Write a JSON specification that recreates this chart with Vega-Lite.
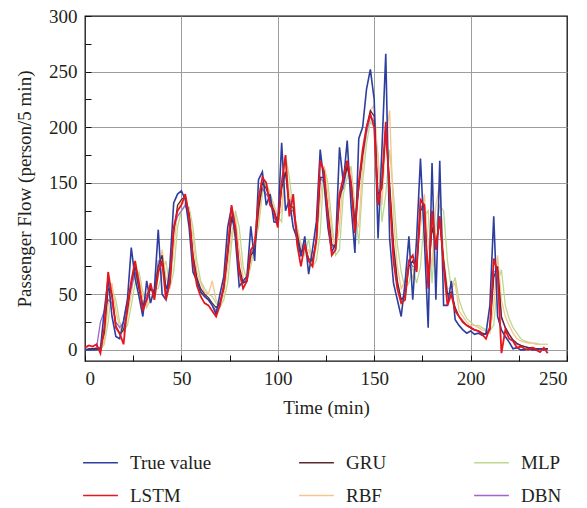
{
"$schema":"https://vega.github.io/schema/vega-lite/v6.json",
"width":482,"height":345,
"padding":{"left":15,"top":7,"right":19,"bottom":5},
"background":"white",
"data":{"values":[
{"t":0,"True value":0,"LSTM":2,"GRU":0,"RBF":0,"MLP":0,"DBN":0},
{"t":2,"True value":0,"LSTM":4,"GRU":1,"RBF":0,"MLP":0,"DBN":0},
{"t":4,"True value":0,"LSTM":3,"GRU":1,"RBF":1,"MLP":0,"DBN":1},
{"t":6,"True value":0,"LSTM":5,"GRU":1,"RBF":1,"MLP":0,"DBN":2},
{"t":8,"True value":1,"LSTM":-3,"GRU":2,"RBF":1,"MLP":0,"DBN":25},
{"t":10,"True value":35,"LSTM":20,"GRU":15,"RBF":8,"MLP":5,"DBN":35},
{"t":12,"True value":64,"LSTM":70,"GRU":55,"RBF":40,"MLP":25,"DBN":45},
{"t":14,"True value":30,"LSTM":48,"GRU":50,"RBF":60,"MLP":55,"DBN":42},
{"t":16,"True value":12,"LSTM":20,"GRU":22,"RBF":35,"MLP":45,"DBN":25},
{"t":18,"True value":10,"LSTM":15,"GRU":14,"RBF":20,"MLP":25,"DBN":20},
{"t":20,"True value":26,"LSTM":5,"GRU":18,"RBF":15,"MLP":18,"DBN":25},
{"t":22,"True value":45,"LSTM":40,"GRU":35,"RBF":30,"MLP":22,"DBN":45},
{"t":24,"True value":92,"LSTM":62,"GRU":60,"RBF":50,"MLP":40,"DBN":55},
{"t":26,"True value":64,"LSTM":80,"GRU":75,"RBF":75,"MLP":60,"DBN":70},
{"t":28,"True value":48,"LSTM":60,"GRU":55,"RBF":65,"MLP":70,"DBN":55},
{"t":30,"True value":30,"LSTM":35,"GRU":40,"RBF":45,"MLP":52,"DBN":40},
{"t":32,"True value":62,"LSTM":45,"GRU":45,"RBF":40,"MLP":38,"DBN":50},
{"t":34,"True value":42,"LSTM":60,"GRU":55,"RBF":55,"MLP":45,"DBN":55},
{"t":36,"True value":55,"LSTM":45,"GRU":50,"RBF":52,"MLP":55,"DBN":52},
{"t":38,"True value":108,"LSTM":70,"GRU":75,"RBF":65,"MLP":55,"DBN":80},
{"t":40,"True value":50,"LSTM":80,"GRU":85,"RBF":90,"MLP":70,"DBN":80},
{"t":42,"True value":45,"LSTM":45,"GRU":55,"RBF":65,"MLP":80,"DBN":55},
{"t":44,"True value":75,"LSTM":60,"GRU":60,"RBF":55,"MLP":55,"DBN":65},
{"t":46,"True value":132,"LSTM":110,"GRU":105,"RBF":90,"MLP":70,"DBN":110},
{"t":48,"True value":140,"LSTM":125,"GRU":130,"RBF":125,"MLP":110,"DBN":120},
{"t":50,"True value":143,"LSTM":130,"GRU":135,"RBF":135,"MLP":125,"DBN":125},
{"t":52,"True value":135,"LSTM":140,"GRU":138,"RBF":130,"MLP":130,"DBN":130},
{"t":54,"True value":110,"LSTM":120,"GRU":122,"RBF":125,"MLP":128,"DBN":120},
{"t":56,"True value":70,"LSTM":80,"GRU":85,"RBF":100,"MLP":110,"DBN":85},
{"t":58,"True value":62,"LSTM":58,"GRU":65,"RBF":70,"MLP":80,"DBN":62},
{"t":60,"True value":52,"LSTM":48,"GRU":55,"RBF":60,"MLP":62,"DBN":52},
{"t":62,"True value":48,"LSTM":42,"GRU":50,"RBF":52,"MLP":55,"DBN":48},
{"t":64,"True value":45,"LSTM":40,"GRU":47,"RBF":50,"MLP":50,"DBN":45},
{"t":66,"True value":40,"LSTM":35,"GRU":42,"RBF":62,"MLP":48,"DBN":40},
{"t":68,"True value":32,"LSTM":30,"GRU":38,"RBF":45,"MLP":42,"DBN":35},
{"t":70,"True value":50,"LSTM":40,"GRU":42,"RBF":40,"MLP":38,"DBN":42},
{"t":72,"True value":66,"LSTM":58,"GRU":55,"RBF":50,"MLP":45,"DBN":58},
{"t":74,"True value":110,"LSTM":90,"GRU":85,"RBF":75,"MLP":60,"DBN":88},
{"t":76,"True value":128,"LSTM":130,"GRU":118,"RBF":105,"MLP":95,"DBN":120},
{"t":78,"True value":100,"LSTM":110,"GRU":110,"RBF":120,"MLP":125,"DBN":105},
{"t":80,"True value":57,"LSTM":70,"GRU":75,"RBF":90,"MLP":110,"DBN":70},
{"t":82,"True value":62,"LSTM":55,"GRU":60,"RBF":65,"MLP":75,"DBN":60},
{"t":84,"True value":66,"LSTM":62,"GRU":62,"RBF":62,"MLP":62,"DBN":64},
{"t":86,"True value":111,"LSTM":90,"GRU":85,"RBF":80,"MLP":75,"DBN":88},
{"t":88,"True value":80,"LSTM":95,"GRU":90,"RBF":100,"MLP":95,"DBN":90},
{"t":90,"True value":153,"LSTM":135,"GRU":125,"RBF":115,"MLP":110,"DBN":130},
{"t":92,"True value":160,"LSTM":155,"GRU":150,"RBF":145,"MLP":140,"DBN":145},
{"t":94,"True value":130,"LSTM":150,"GRU":145,"RBF":150,"MLP":150,"DBN":140},
{"t":96,"True value":140,"LSTM":130,"GRU":135,"RBF":140,"MLP":140,"DBN":135},
{"t":98,"True value":115,"LSTM":125,"GRU":125,"RBF":130,"MLP":130,"DBN":120},
{"t":100,"True value":114,"LSTM":110,"GRU":115,"RBF":120,"MLP":120,"DBN":112},
{"t":102,"True value":186,"LSTM":150,"GRU":145,"RBF":125,"MLP":115,"DBN":150},
{"t":104,"True value":125,"LSTM":175,"GRU":160,"RBF":170,"MLP":175,"DBN":160},
{"t":106,"True value":135,"LSTM":120,"GRU":130,"RBF":140,"MLP":155,"DBN":125},
{"t":108,"True value":110,"LSTM":140,"GRU":128,"RBF":125,"MLP":125,"DBN":125},
{"t":110,"True value":100,"LSTM":95,"GRU":105,"RBF":110,"MLP":110,"DBN":100},
{"t":112,"True value":84,"LSTM":75,"GRU":88,"RBF":95,"MLP":95,"DBN":85},
{"t":114,"True value":102,"LSTM":95,"GRU":92,"RBF":90,"MLP":85,"DBN":95},
{"t":116,"True value":68,"LSTM":80,"GRU":82,"RBF":90,"MLP":100,"DBN":80},
{"t":118,"True value":90,"LSTM":75,"GRU":80,"RBF":80,"MLP":75,"DBN":80},
{"t":120,"True value":115,"LSTM":100,"GRU":98,"RBF":92,"MLP":80,"DBN":100},
{"t":122,"True value":180,"LSTM":170,"GRU":155,"RBF":135,"MLP":105,"DBN":155},
{"t":124,"True value":150,"LSTM":160,"GRU":155,"RBF":165,"MLP":165,"DBN":150},
{"t":126,"True value":110,"LSTM":120,"GRU":125,"RBF":140,"MLP":150,"DBN":118},
{"t":128,"True value":88,"LSTM":85,"GRU":95,"RBF":105,"MLP":115,"DBN":92},
{"t":130,"True value":95,"LSTM":90,"GRU":92,"RBF":90,"MLP":85,"DBN":95},
{"t":132,"True value":182,"LSTM":140,"GRU":135,"RBF":110,"MLP":90,"DBN":140},
{"t":134,"True value":150,"LSTM":155,"GRU":150,"RBF":160,"MLP":140,"DBN":145},
{"t":136,"True value":188,"LSTM":170,"GRU":165,"RBF":165,"MLP":155,"DBN":165},
{"t":138,"True value":130,"LSTM":150,"GRU":150,"RBF":160,"MLP":165,"DBN":145},
{"t":140,"True value":87,"LSTM":105,"GRU":115,"RBF":120,"MLP":130,"DBN":108},
{"t":142,"True value":190,"LSTM":150,"GRU":145,"RBF":110,"MLP":95,"DBN":150},
{"t":144,"True value":200,"LSTM":180,"GRU":175,"RBF":165,"MLP":150,"DBN":175},
{"t":146,"True value":234,"LSTM":200,"GRU":200,"RBF":195,"MLP":185,"DBN":195},
{"t":148,"True value":252,"LSTM":212,"GRU":215,"RBF":215,"MLP":205,"DBN":210},
{"t":150,"True value":225,"LSTM":200,"GRU":210,"RBF":220,"MLP":200,"DBN":205},
{"t":152,"True value":100,"LSTM":130,"GRU":140,"RBF":170,"MLP":175,"DBN":135},
{"t":154,"True value":180,"LSTM":150,"GRU":145,"RBF":130,"MLP":115,"DBN":150},
{"t":156,"True value":266,"LSTM":205,"GRU":200,"RBF":190,"MLP":140,"DBN":195},
{"t":158,"True value":100,"LSTM":140,"GRU":150,"RBF":215,"MLP":180,"DBN":145},
{"t":160,"True value":60,"LSTM":80,"GRU":95,"RBF":120,"MLP":140,"DBN":90},
{"t":162,"True value":45,"LSTM":55,"GRU":62,"RBF":75,"MLP":95,"DBN":60},
{"t":164,"True value":30,"LSTM":42,"GRU":45,"RBF":55,"MLP":70,"DBN":45},
{"t":166,"True value":60,"LSTM":45,"GRU":48,"RBF":62,"MLP":55,"DBN":50},
{"t":168,"True value":102,"LSTM":80,"GRU":75,"RBF":75,"MLP":60,"DBN":80},
{"t":170,"True value":45,"LSTM":85,"GRU":80,"RBF":65,"MLP":75,"DBN":75},
{"t":172,"True value":100,"LSTM":70,"GRU":72,"RBF":80,"MLP":60,"DBN":75},
{"t":174,"True value":172,"LSTM":135,"GRU":125,"RBF":110,"MLP":75,"DBN":130},
{"t":176,"True value":100,"LSTM":130,"GRU":130,"RBF":140,"MLP":120,"DBN":125},
{"t":178,"True value":20,"LSTM":55,"GRU":65,"RBF":95,"MLP":125,"DBN":60},
{"t":180,"True value":168,"LSTM":125,"GRU":110,"RBF":75,"MLP":60,"DBN":115},
{"t":182,"True value":45,"LSTM":90,"GRU":95,"RBF":130,"MLP":110,"DBN":90},
{"t":184,"True value":170,"LSTM":120,"GRU":115,"RBF":150,"MLP":130,"DBN":120},
{"t":186,"True value":40,"LSTM":75,"GRU":80,"RBF":85,"MLP":125,"DBN":80},
{"t":188,"True value":40,"LSTM":40,"GRU":50,"RBF":55,"MLP":80,"DBN":48},
{"t":190,"True value":62,"LSTM":50,"GRU":52,"RBF":55,"MLP":55,"DBN":52},
{"t":192,"True value":27,"LSTM":35,"GRU":38,"RBF":60,"MLP":65,"DBN":36},
{"t":194,"True value":22,"LSTM":30,"GRU":30,"RBF":35,"MLP":45,"DBN":30},
{"t":196,"True value":18,"LSTM":25,"GRU":25,"RBF":30,"MLP":35,"DBN":26},
{"t":198,"True value":15,"LSTM":22,"GRU":22,"RBF":25,"MLP":28,"DBN":22},
{"t":200,"True value":17,"LSTM":20,"GRU":20,"RBF":22,"MLP":25,"DBN":20},
{"t":202,"True value":14,"LSTM":18,"GRU":18,"RBF":22,"MLP":22,"DBN":18},
{"t":204,"True value":15,"LSTM":17,"GRU":17,"RBF":20,"MLP":22,"DBN":17},
{"t":206,"True value":13,"LSTM":14,"GRU":15,"RBF":18,"MLP":20,"DBN":15},
{"t":208,"True value":15,"LSTM":10,"GRU":14,"RBF":17,"MLP":18,"DBN":14},
{"t":210,"True value":40,"LSTM":20,"GRU":18,"RBF":15,"MLP":17,"DBN":20},
{"t":212,"True value":120,"LSTM":82,"GRU":65,"RBF":40,"MLP":22,"DBN":70},
{"t":214,"True value":30,"LSTM":70,"GRU":75,"RBF":85,"MLP":60,"DBN":72},
{"t":216,"True value":18,"LSTM":-3,"GRU":30,"RBF":45,"MLP":72,"DBN":28},
{"t":218,"True value":12,"LSTM":18,"GRU":20,"RBF":30,"MLP":40,"DBN":20},
{"t":220,"True value":7,"LSTM":10,"GRU":14,"RBF":22,"MLP":28,"DBN":14},
{"t":222,"True value":1,"LSTM":8,"GRU":9,"RBF":15,"MLP":20,"DBN":8},
{"t":224,"True value":2,"LSTM":2,"GRU":6,"RBF":10,"MLP":15,"DBN":5},
{"t":226,"True value":0,"LSTM":3,"GRU":4,"RBF":8,"MLP":10,"DBN":4},
{"t":228,"True value":0,"LSTM":1,"GRU":3,"RBF":7,"MLP":8,"DBN":3},
{"t":230,"True value":1,"LSTM":0,"GRU":2,"RBF":6,"MLP":7,"DBN":2},
{"t":232,"True value":0,"LSTM":2,"GRU":2,"RBF":6,"MLP":6,"DBN":2},
{"t":234,"True value":0,"LSTM":0,"GRU":1,"RBF":5,"MLP":6,"DBN":1},
{"t":236,"True value":1,"LSTM":-2,"GRU":1,"RBF":5,"MLP":5,"DBN":1},
{"t":238,"True value":0,"LSTM":2,"GRU":1,"RBF":5,"MLP":5,"DBN":1},
{"t":240,"True value":1,"LSTM":-3,"GRU":1,"RBF":5,"MLP":5,"DBN":1}
]},
"transform":[{"fold":["True value","LSTM","GRU","RBF","MLP","DBN"],"as":["series","v"]}],
"encoding":{
"x":{"field":"t","type":"quantitative","scale":{"domain":[0,250],"nice":false},
"axis":{"title":"Time (min)","values":[0,25,50,75,100,125,150,175,200,225,250],
"labelExpr":"datum.value % 50 === 0 ? datum.label : ''",
"gridOpacity":{"condition":{"test":"datum.value % 50 === 0 && datum.value > 0 && datum.value < 250","value":1},"value":0}}},
"y":{"field":"v","type":"quantitative","scale":{"domain":[-10,300],"nice":false},
"axis":{"title":"Passenger Flow (person/5 min)","values":[0,25,50,75,100,125,150,175,200,225,250,275,300],
"labelExpr":"datum.value % 50 === 0 ? datum.label : ''",
"gridOpacity":{"condition":{"test":"datum.value % 50 === 0 && datum.value < 300","value":1},"value":0}}},
"color":{"field":"series","type":"nominal",
"scale":{"domain":["True value","GRU","MLP","LSTM","RBF","DBN"],"range":["#2d3e9e","#5b2a2e","#bcd991","#e4161f","#f9c38e","#a066c8"]},
"legend":{"title":null,"orient":"bottom","direction":"horizontal","columns":3,"symbolType":"M-1.2,0H1.2","symbolSize":841,"symbolStrokeWidth":1.5,"labelFontSize":19,"labelFont":"Liberation Serif","labelColor":"#231f20","labelOffset":14,"columnPadding":84,"rowPadding":7,"gridAlign":"each","offset":30}}
},
"layer":[
{"transform":[{"filter":"datum.series === 'MLP'"}],"mark":{"type":"line","strokeWidth":1.3}},
{"transform":[{"filter":"datum.series === 'RBF'"}],"mark":{"type":"line","strokeWidth":1.3}},
{"transform":[{"filter":"datum.series === 'DBN'"}],"mark":{"type":"line","strokeWidth":1.3}},
{"transform":[{"filter":"datum.series === 'GRU'"}],"mark":{"type":"line","strokeWidth":1.3}},
{"transform":[{"filter":"datum.series === 'True value'"}],"mark":{"type":"line","strokeWidth":1.6}},
{"transform":[{"filter":"datum.series === 'LSTM'"}],"mark":{"type":"line","strokeWidth":1.8}}
],
"config":{
"view":{"stroke":"#111","strokeWidth":1.3},
"axis":{"domain":false,"grid":true,"gridColor":"#9d9d9d","gridWidth":1,"tickColor":"#111","tickSize":-6,"labelPadding":14,
"labelFont":"Liberation Serif","labelFontSize":19,"labelColor":"#231f20","titleFont":"Liberation Serif","titleFontSize":19,"titleFontWeight":"normal","titleColor":"#231f20"},
"axisY":{"titlePadding":14},
"axisX":{"titlePadding":10}
}
}
